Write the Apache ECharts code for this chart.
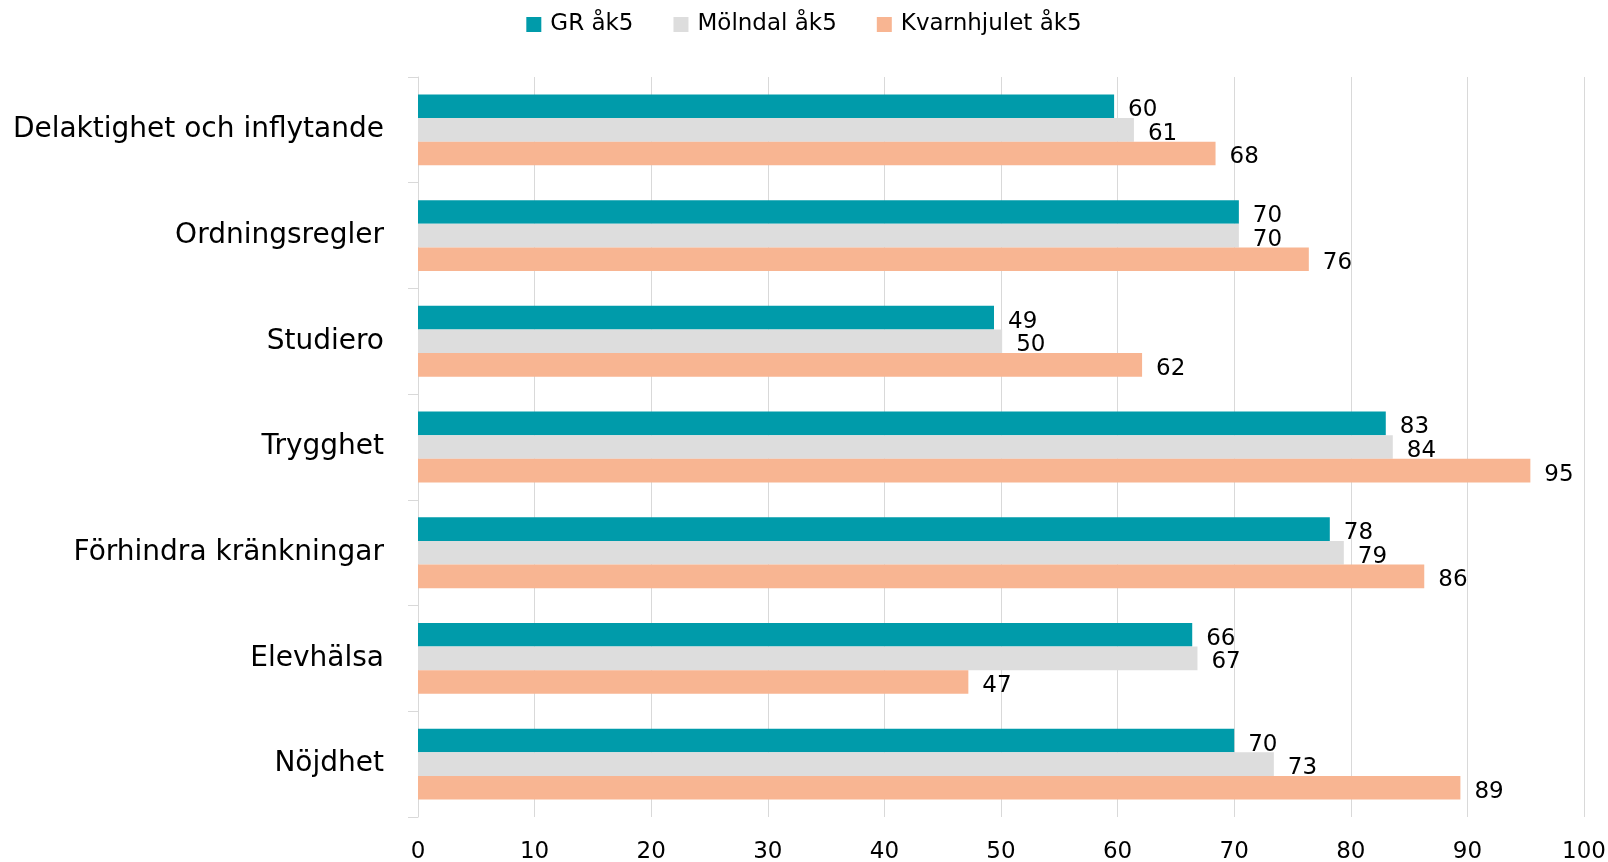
<!DOCTYPE html>
<html>
<head>
<meta charset="utf-8">
<script src="https://cdn.jsdelivr.net/npm/echarts@6/dist/echarts.min.js"></script>
<style>html,body{margin:0;padding:0;background:#fff;}#c{width:1608px;height:862px;}</style>
</head>
<body>
<div id="c"></div>
<script>
const categories = ['Delaktighet och inflytande','Ordningsregler','Studiero','Trygghet','Förhindra kränkningar','Elevhälsa','Nöjdhet'];
const seriesNames = ['GR åk5','Mölndal åk5','Kvarnhjulet åk5'];
const grValues = [59.7, 70.4, 49.4, 83.0, 78.2, 66.4, 70.0];
const molndalValues = [61.4, 70.4, 50.1, 83.6, 79.4, 66.85, 73.4];
const kvarnValues = [68.4, 76.4, 62.1, 95.4, 86.3, 47.2, 89.4];
const xTicks = [0,10,20,30,40,50,60,70,80,90,100];
const colors = ['#009BAA','#DDDDDD','#F8B592'];

const font = 'DejaVu Sans';
const chart = echarts.init(document.getElementById('c'));
function mk(name, data, color){
  return {
    name: name, type: 'bar', data: data, barGap: '0%', barCategoryGap: '33%',
    itemStyle: {color: color},
    label: {show: true, position: 'right', distance: 14, color: '#000', fontFamily: font, fontSize: 23,
      offset: [0, 4],
      formatter: p => Math.round(p.value)}
  };
}
chart.setOption({
  animation: false,
  color: colors,
  legend: {
    top: 8, left: 'center', itemWidth: 15, itemHeight: 15, itemGap: 40,
    icon: 'rect',
    textStyle: {fontFamily: font, fontSize: 23, color: '#000', padding: [0, 0, 0, 4]},
    data: seriesNames
  },
  grid: {left: 418, right: 24, top: 77, bottom: 45, containLabel: false, outerBoundsMode: 'none'},
  xAxis: {
    type: 'value', min: xTicks[0], max: xTicks[xTicks.length-1], interval: 10,
    axisLine: {show: false}, axisTick: {show: false},
    splitLine: {show: true, lineStyle: {color: '#d9d9d9', width: 1}},
    axisLabel: {fontFamily: font, fontSize: 23, color: '#000', margin: 24}
  },
  yAxis: {
    type: 'category', data: categories, inverse: true,
    axisLine: {show: true, lineStyle: {color: '#d9d9d9', width: 1}},
    axisTick: {show: true, length: 10, lineStyle: {color: '#d9d9d9'}},
    axisLabel: {fontFamily: font, fontSize: 28, color: '#000', margin: 34}
  },
  series: [mk(seriesNames[0], grValues, colors[0]), mk(seriesNames[1], molndalValues, colors[1]), mk(seriesNames[2], kvarnValues, colors[2])]
});
</script>
</body>
</html>
